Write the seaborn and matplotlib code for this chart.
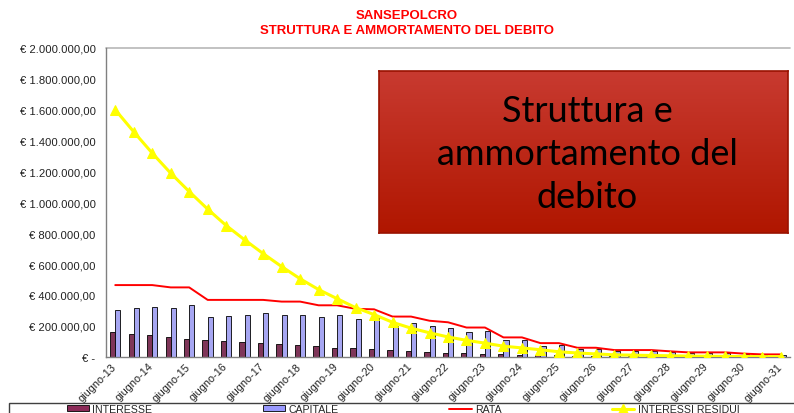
import numpy as np
import pandas as pd
import matplotlib
matplotlib.use('Agg')
import matplotlib.pyplot as plt
import matplotlib.transforms as mtransforms
from matplotlib.patches import Patch, Rectangle
from matplotlib.lines import Line2D
import seaborn as sns

# semiannual periods giugno-13 ... giugno-31
years = list(range(13, 32))
periods = []
for y in years:
    periods.append(f'giugno-{y}')
    if y != 31:
        periods.append(f'dicembre-{y}')

# values in thousands of euro
interesse = [157, 146, 138, 127, 114, 110, 101, 95, 88, 80,
             73, 67, 58, 54, 47, 41, 34, 30, 27, 21,
             17, 15, 13, 11, 9, 6, 4, 4, 3, 3,
             2, 2, 2, 1, 1, 1, 0.5]
capitale = [301, 314, 325, 318, 333, 260, 265, 269, 280, 269,
            273, 260, 269, 247, 250, 200, 221, 200, 189, 157,
            166, 105, 110, 71, 75, 49, 49, 36, 35, 35,
            28, 25, 25, 25, 18, 14, 14]
rata = [464, 464, 464, 449, 449, 368, 368, 368, 368, 357,
        357, 333, 333, 310, 307, 260, 260, 233, 223, 189,
        189, 125, 125, 88, 88, 58, 58, 43, 43, 43,
        35, 28, 28, 28, 20, 15, 15]
interessi_residui = [1600, 1457, 1319, 1189, 1070, 956, 850, 757, 668, 584,
                     505, 435, 376, 318, 273, 223, 185, 155, 128, 106,
                     88, 68, 57, 45, 32, 24, 18, 12, 10, 8,
                     6, 4, 3, 2, 1, 0.5, 0]

yticks = np.arange(0, 2_000_001, 200_000)
ytick_labels = ['€ -', '€ 200.000,00', '€ 400.000,00', '€ 600.000,00', '€ 800.000,00',
                '€ 1.000.000,00', '€ 1.200.000,00', '€ 1.400.000,00', '€ 1.600.000,00',
                '€ 1.800.000,00', '€ 2.000.000,00']

sns.set_style('white')
plt.rcParams['font.family'] = ['Liberation Sans', 'DejaVu Sans']

fig = plt.figure(figsize=(7.94, 4.14), dpi=100)
ax = fig.add_axes([106/794, 1 - 357.7/414, (790 - 106)/794, (357.7 - 49)/414])

df = pd.DataFrame({'periodo': periods,
                   'INTERESSE': np.array(interesse) * 1000,
                   'CAPITALE': np.array(capitale) * 1000})
df_long = df.melt(id_vars='periodo', var_name='voce', value_name='valore')

sns.barplot(data=df_long, x='periodo', y='valore', hue='voce',
            palette=['#8B2A58', '#9999FF'], width=0.56, edgecolor='black',
            linewidth=0.6, legend=False, ax=ax, zorder=2)

pos = np.arange(len(periods))
sns.lineplot(x=pos, y=np.array(rata) * 1000, color='#FF0000', linewidth=1.4, ax=ax, zorder=3)
sns.lineplot(x=pos, y=np.array(interessi_residui) * 1000, color='#FFFF00', linewidth=2.2,
             marker='^', markersize=7, markeredgecolor='#FFFF00', ax=ax, zorder=4)

ax.set_xlim(-0.5, len(periods) - 0.5)
ax.set_ylim(0, 2_000_000)
ax.axhline(2_000_000, color='#b8b8b8', linewidth=1.2, zorder=1, clip_on=False)

ax.set_yticks(yticks)
ax.set_yticklabels(ytick_labels, fontsize=8.1, color='#222222')
ax.tick_params(axis='y', direction='inout', length=5, width=0.8, color='#707070', pad=5)

ax.set_xticks(pos[::2])
ax.set_xticklabels(periods[::2], rotation=45, ha='right', va='top',
                   rotation_mode='anchor', fontsize=7.8, color='#222222')
ax.set_xticks(np.arange(-0.5, len(periods), 1), minor=True)
ax.tick_params(axis='x', which='major', length=0, pad=3)
ax.tick_params(axis='x', which='minor', direction='inout', length=5, width=0.8, color='#707070')
shift = mtransforms.ScaledTranslation(-4/100, 0, fig.dpi_scale_trans)
for lab in ax.get_xticklabels():
    lab.set_transform(lab.get_transform() + shift)

ax.set_xlabel('')
ax.set_ylabel('')
sns.despine(ax=ax)
for side in ['left', 'bottom']:
    ax.spines[side].set_color('#808080')
    ax.spines[side].set_linewidth(1.0)

fig.text(407/794, 1 - 16/414, 'SANSEPOLCRO', color='#FF0000', fontsize=9.5,
         fontweight='bold', ha='center', va='center')
fig.text(407/794, 1 - 31/414, 'STRUTTURA E AMMORTAMENTO DEL DEBITO', color='#FF0000',
         fontsize=9.5, fontweight='bold', ha='center', va='center')

# red box with gradient
box = fig.add_axes([379/794, 1 - 234/414, (788 - 379)/794, (234 - 72)/414])
top_c = np.array([200, 58, 48]) / 255
bot_c = np.array([176, 22, 0]) / 255
t = np.linspace(0, 1, 100)[:, None]
grad = top_c[None, None, :] * (1 - t[..., None]) + bot_c[None, None, :] * t[..., None]
grad = np.repeat(grad, 2, axis=1)
box.imshow(grad, aspect='auto', extent=(0, 1, 0, 1))
box.set_xticks([])
box.set_yticks([])
for sp in box.spines.values():
    sp.set_color('#9a1200')
    sp.set_linewidth(1.2)
box.text(0.51, 0.49, 'Struttura e\nammortamento del\ndebito', ha='center', va='center',
         fontsize=26, family=['Lato', 'DejaVu Sans'], color='black', linespacing=1.38,
         transform=box.transAxes)

# legend
handles = [Patch(facecolor='#8B2A58', edgecolor='black', linewidth=0.6),
           Patch(facecolor='#9999FF', edgecolor='black', linewidth=0.6),
           Line2D([], [], color='#FF0000', linewidth=1.4),
           Line2D([], [], color='#FFFF00', linewidth=2.2, marker='^', markersize=7)]
labels = ['INTERESSE', 'CAPITALE', 'RATA', 'INTERESSI RESIDUI']
fig.legend(handles, labels, loc='center left', bbox_to_anchor=(67/794, 1 - 410/414),
           frameon=False, ncol=4, fontsize=7.6, handlelength=2.1, handleheight=0.5,
           handletextpad=0.3, columnspacing=10.5, borderpad=0, borderaxespad=0)
fig.add_artist(Rectangle((9/794, -0.1), 1.0, (1 - 404/414) + 0.1, transform=fig.transFigure,
                         fill=False, edgecolor='#404040', linewidth=1.0))

fig.savefig('out.png', dpi=100)
